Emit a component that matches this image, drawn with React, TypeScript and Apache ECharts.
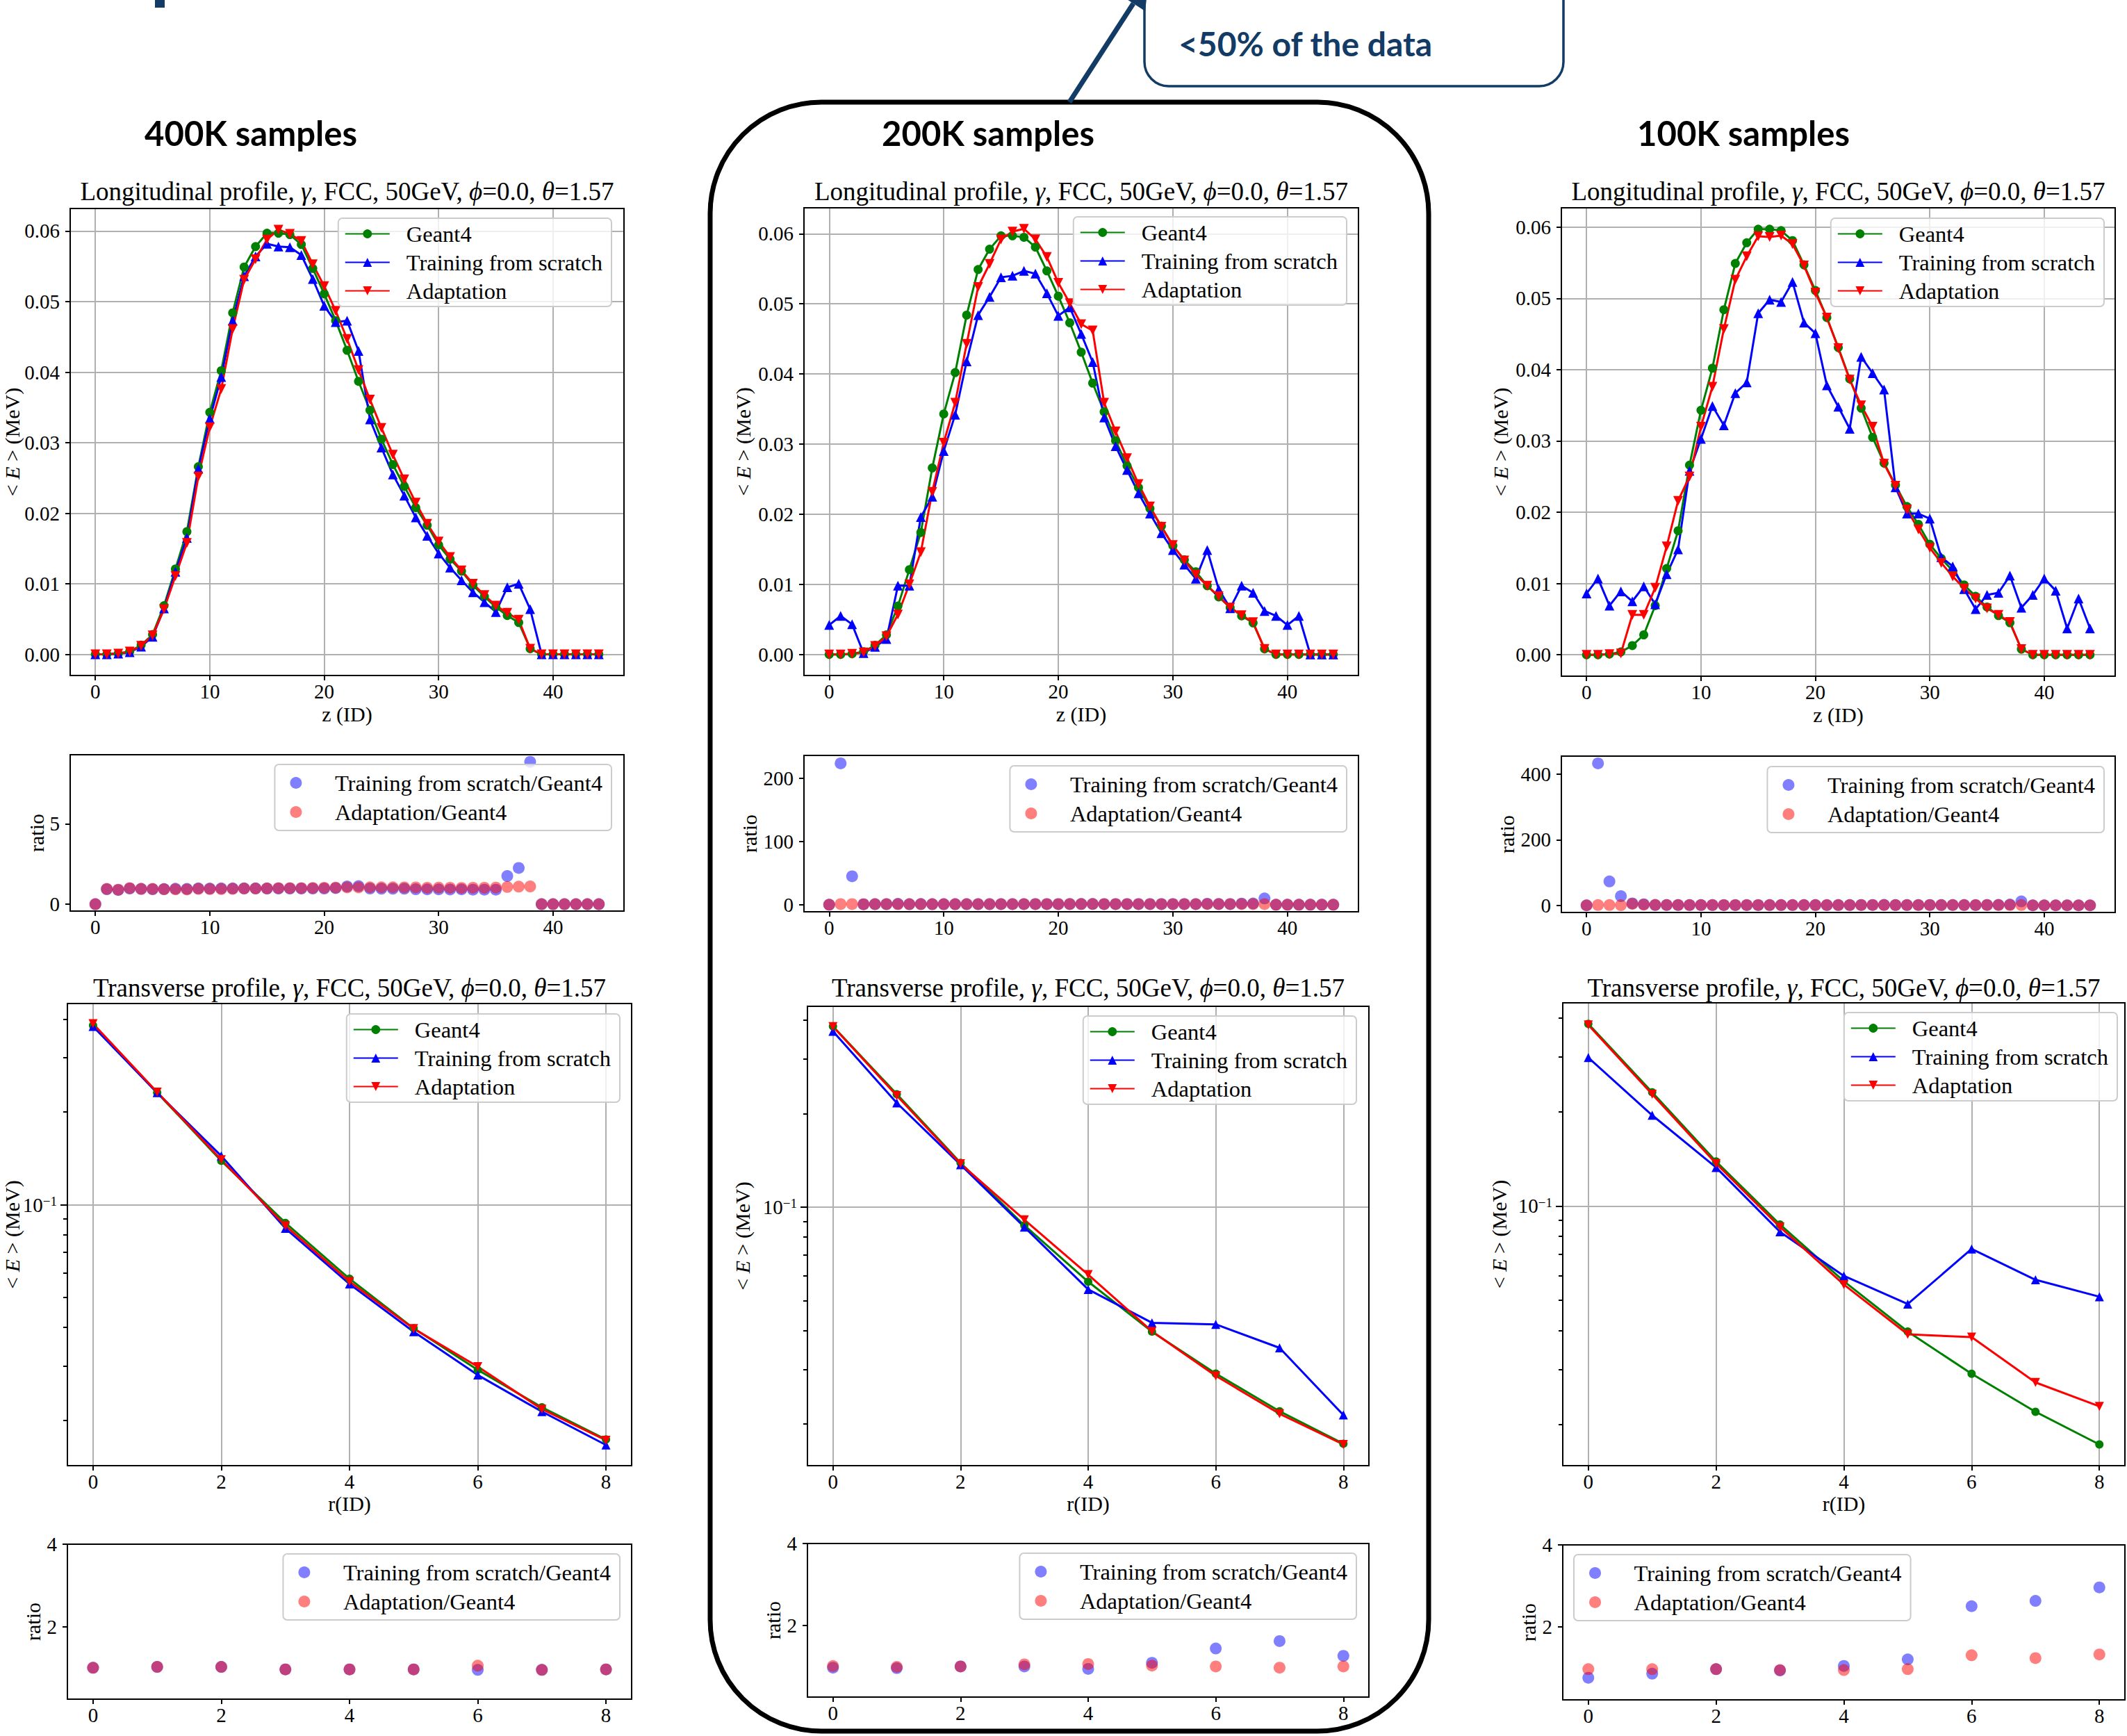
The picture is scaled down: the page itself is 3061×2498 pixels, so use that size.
import React, { useEffect, useRef } from "react";
import * as echarts from "echarts";

const W = 3061;
const H = 2498;

// ---------- bins & ticks ----------
const zBins = [0, 1, 2, 3, 4, 5, 6, 7, 8, 9, 10, 11, 12, 13, 14, 15, 16, 17, 18, 19, 20, 21, 22, 23, 24, 25, 26, 27, 28, 29, 30, 31, 32, 33, 34, 35, 36, 37, 38, 39, 40, 41, 42, 43, 44];
const rBins = [0, 1, 2, 3, 4, 5, 6, 7, 8];

const zTicks = [0, 10, 20, 30, 40];
const energyTicks = [0, 0.01, 0.02, 0.03, 0.04, 0.05, 0.06];
const rTicks = [0, 2, 4, 6, 8];
const logMajorTicks = [0.1];
const logMinorTicks = [0.02, 0.03, 0.04, 0.05, 0.06, 0.07, 0.08, 0.09, 0.2, 0.3, 0.4];
const ratioTicks400 = [0, 5];
const ratioTicks200 = [0, 100, 200];
const ratioTicks100 = [0, 200, 400];
const transRatioTicks = [2, 4];

const lineNames = ["Geant4", "Training from scratch", "Adaptation"];
const ratioNames = ["Training from scratch/Geant4", "Adaptation/Geant4"];
const headers = ["400K samples", "200K samples", "100K samples"];
const longTitle = "Longitudinal profile, {i|γ}, FCC, 50GeV, {i|ϕ}=0.0, {i|θ}=1.57";
const transTitle = "Transverse profile, {i|γ}, FCC, 50GeV, {i|ϕ}=0.0, {i|θ}=1.57";
const calloutText = "<50% of the data";

// ---------- longitudinal profiles ----------
const g4Long = [0, 0, 0.0001, 0.0004, 0.0013, 0.0028, 0.0069, 0.0121, 0.0174, 0.0266, 0.0343, 0.0402, 0.0484, 0.0549, 0.0578, 0.0597, 0.0597, 0.0595, 0.0581, 0.0547, 0.0511, 0.0473, 0.0431, 0.0387, 0.0346, 0.0305, 0.0269, 0.0238, 0.0208, 0.0183, 0.0155, 0.0135, 0.0118, 0.0098, 0.0082, 0.0067, 0.0055, 0.0045, 0.0008, 0, 0, 0, 0, 0, 0];

const scratchLong400 = [0, 0, 0.0001, 0.0003, 0.0011, 0.0025, 0.0065, 0.0117, 0.0165, 0.0263, 0.0334, 0.0393, 0.0473, 0.0536, 0.0564, 0.0582, 0.0578, 0.0577, 0.0566, 0.0532, 0.0494, 0.0471, 0.0473, 0.043, 0.0333, 0.0293, 0.0255, 0.0225, 0.0194, 0.0168, 0.0143, 0.0123, 0.0105, 0.0088, 0.0074, 0.006, 0.0095, 0.01, 0.0064, 0, 0, 0, 0, 0, 0];
const adaptLong400 = [0, 0, 0.0001, 0.0004, 0.0012, 0.0027, 0.0064, 0.0111, 0.0158, 0.0252, 0.0322, 0.0376, 0.0461, 0.0531, 0.056, 0.0588, 0.0602, 0.0596, 0.0586, 0.0553, 0.0522, 0.0487, 0.0447, 0.0403, 0.0361, 0.0321, 0.0283, 0.0248, 0.0215, 0.0185, 0.016, 0.0138, 0.0119, 0.01, 0.0084, 0.0069, 0.0059, 0.0049, 0.0008, 0, 0, 0, 0, 0, 0];

const scratchLong200 = [0.0042, 0.0055, 0.0043, 0.0002, 0.0011, 0.0022, 0.0098, 0.0098, 0.0196, 0.0225, 0.029, 0.0342, 0.0418, 0.0484, 0.051, 0.0538, 0.054, 0.0547, 0.0543, 0.0515, 0.0483, 0.0495, 0.0457, 0.0417, 0.0338, 0.0297, 0.0263, 0.023, 0.0201, 0.0173, 0.0149, 0.0128, 0.0108, 0.0149, 0.0093, 0.0066, 0.0098, 0.0088, 0.0062, 0.0055, 0.0042, 0.0055, 0, 0, 0];
const adaptLong200 = [0, 0, 0.0001, 0.0003, 0.0012, 0.0026, 0.0057, 0.01, 0.0146, 0.0232, 0.0302, 0.0359, 0.0443, 0.0524, 0.0557, 0.0592, 0.0603, 0.0607, 0.0592, 0.0567, 0.053, 0.0501, 0.0471, 0.0462, 0.0359, 0.0318, 0.028, 0.0243, 0.0211, 0.0182, 0.0156, 0.0134, 0.0114, 0.0098, 0.0083, 0.0067, 0.0056, 0.0046, 0.0008, 0, 0, 0, 0, 0, 0];

const scratchLong100 = [0.0086, 0.0107, 0.0069, 0.0089, 0.0075, 0.0096, 0.0071, 0.0113, 0.0148, 0.0258, 0.0303, 0.0349, 0.0322, 0.0367, 0.0382, 0.0479, 0.0498, 0.0495, 0.0523, 0.0466, 0.0451, 0.0378, 0.0348, 0.0317, 0.0418, 0.0395, 0.0372, 0.0235, 0.0198, 0.0198, 0.0191, 0.0137, 0.0124, 0.0092, 0.0064, 0.0084, 0.0087, 0.0111, 0.0066, 0.0084, 0.0107, 0.009, 0.0037, 0.0079, 0.0037];
const adaptLong100 = [0, 0, 0.0001, 0.0002, 0.0056, 0.0056, 0.0094, 0.0152, 0.0216, 0.025, 0.032, 0.0376, 0.0457, 0.0526, 0.0559, 0.0587, 0.0586, 0.0588, 0.0576, 0.0546, 0.0508, 0.0473, 0.043, 0.0386, 0.035, 0.032, 0.0268, 0.0237, 0.0204, 0.0176, 0.015, 0.0129, 0.011, 0.0093, 0.0079, 0.0065, 0.0056, 0.0046, 0.0008, 0, 0, 0, 0, 0, 0];

// ---------- longitudinal ratios ----------
const ratioScratchLong400 = [0, 0.93, 0.88, 0.97, 0.95, 0.93, 0.94, 0.96, 0.95, 0.98, 0.97, 0.98, 0.98, 0.98, 0.98, 0.97, 0.97, 0.97, 0.97, 0.97, 0.97, 1.0, 1.1, 1.12, 0.97, 0.96, 0.96, 0.96, 0.93, 0.92, 0.92, 0.91, 0.92, 0.9, 0.9, 0.9, 1.75, 2.25, 8.85, 0, 0, 0, 0, 0, 0];
const ratioAdaptLong400 = [0, 0.95, 0.9, 1.0, 0.95, 0.95, 0.93, 0.92, 0.91, 0.95, 0.94, 0.94, 0.95, 0.97, 0.97, 0.98, 1.0, 1.0, 1.0, 1.01, 1.02, 1.03, 1.04, 1.04, 1.05, 1.05, 1.05, 1.04, 1.04, 1.02, 1.03, 1.02, 1.01, 1.02, 1.02, 1.03, 1.07, 1.09, 1.1, 0, 0, 0, 0, 0, 0];

const ratioScratchLong200 = [0, 224, 45, 0.7, 0.85, 0.8, 1.4, 0.8, 1.1, 0.85, 0.85, 0.85, 0.86, 0.88, 0.88, 0.9, 0.9, 0.92, 0.93, 0.94, 0.95, 1.05, 1.06, 1.08, 0.98, 0.97, 0.98, 0.97, 0.97, 0.95, 0.96, 0.95, 0.92, 1.6, 1.13, 0.98, 1.8, 1.95, 9.9, 0, 0, 0, 0, 0, 0];
const ratioAdaptLong200 = [0, 1, 1, 0.75, 0.92, 0.93, 0.83, 0.83, 0.84, 0.87, 0.88, 0.89, 0.92, 0.95, 0.96, 0.99, 1.01, 1.02, 1.02, 1.04, 1.04, 1.06, 1.09, 1.19, 1.04, 1.04, 1.04, 1.02, 1.01, 0.99, 1.01, 0.99, 0.97, 1.0, 1.01, 1.0, 1.02, 1.02, 1.0, 0, 0, 0, 0, 0, 0];

const ratioScratchLong100 = [0, 433, 73, 28, 6, 3.4, 1.03, 0.93, 0.85, 0.97, 0.88, 0.87, 0.67, 0.67, 0.66, 0.8, 0.83, 0.83, 0.9, 0.85, 0.88, 0.8, 0.81, 0.82, 1.21, 1.3, 1.38, 0.99, 0.95, 1.08, 1.23, 1.01, 1.05, 0.94, 0.78, 1.25, 1.58, 2.47, 12, 0, 0, 0, 0, 0, 0];
const ratioAdaptLong100 = [0, 1, 1, 0.5, 4.3, 2.0, 1.36, 1.26, 1.24, 0.94, 0.93, 0.94, 0.94, 0.96, 0.97, 0.98, 0.98, 0.99, 0.99, 1.0, 0.99, 1.0, 1.0, 1.0, 1.01, 1.05, 1.0, 1.0, 0.98, 0.96, 0.97, 0.96, 0.93, 0.95, 0.96, 0.97, 1.02, 1.02, 1.0, 0, 0, 0, 0, 0, 0];

// ---------- transverse profiles ----------
const g4Trans = [0.382, 0.231, 0.1388, 0.0873, 0.0575, 0.0397, 0.0291, 0.022, 0.0173];
const scratchTrans400 = [0.379, 0.231, 0.144, 0.0838, 0.0553, 0.0387, 0.028, 0.0213, 0.0166];
const adaptTrans400 = [0.387, 0.232, 0.14, 0.0855, 0.0563, 0.0396, 0.0298, 0.0217, 0.0172];
const scratchTrans200 = [0.368, 0.2165, 0.1369, 0.0862, 0.0543, 0.0424, 0.0419, 0.0352, 0.0214];
const adaptTrans200 = [0.3812, 0.2285, 0.1379, 0.091, 0.0606, 0.0398, 0.0286, 0.0216, 0.0172];
const scratchTrans100 = [0.298, 0.195, 0.1328, 0.0827, 0.0598, 0.0486, 0.0729, 0.0581, 0.0513];
const adaptTrans100 = [0.379, 0.2276, 0.1367, 0.0857, 0.0561, 0.0389, 0.0381, 0.0273, 0.0229];

// ---------- transverse ratios ----------
const ratioScratchTrans400 = [1.01, 1.03, 1.03, 0.97, 0.97, 0.97, 0.96, 0.96, 0.97];
const ratioAdaptTrans400 = [1.01, 1.03, 1.03, 0.97, 0.97, 0.97, 1.06, 0.96, 0.97];
const ratioScratchTrans200 = [0.96, 0.95, 0.99, 0.99, 0.93, 1.08, 1.43, 1.61, 1.25];
const ratioAdaptTrans200 = [1.0, 0.98, 0.99, 1.04, 1.05, 1.01, 0.99, 0.96, 0.99];
const ratioScratchTrans100 = [0.75, 0.85, 0.96, 0.93, 1.04, 1.2, 2.5, 2.63, 2.96];
const ratioAdaptTrans100 = [0.96, 0.96, 0.96, 0.94, 0.94, 0.96, 1.3, 1.23, 1.32];

const columnsData = [
  { scratchLong: scratchLong400, adaptLong: adaptLong400, rScratchLong: ratioScratchLong400, rAdaptLong: ratioAdaptLong400, ratioTicks: ratioTicks400, scratchTrans: scratchTrans400, adaptTrans: adaptTrans400, rScratchTrans: ratioScratchTrans400, rAdaptTrans: ratioAdaptTrans400 },
  { scratchLong: scratchLong200, adaptLong: adaptLong200, rScratchLong: ratioScratchLong200, rAdaptLong: ratioAdaptLong200, ratioTicks: ratioTicks200, scratchTrans: scratchTrans200, adaptTrans: adaptTrans200, rScratchTrans: ratioScratchTrans200, rAdaptTrans: ratioAdaptTrans200 },
  { scratchLong: scratchLong100, adaptLong: adaptLong100, rScratchLong: ratioScratchLong100, rAdaptLong: ratioAdaptLong100, ratioTicks: ratioTicks100, scratchTrans: scratchTrans100, adaptTrans: adaptTrans100, rScratchTrans: ratioScratchTrans100, rAdaptTrans: ratioAdaptTrans100 },
];

// ---------- layout (pixels) ----------
const layout = [
  {
    headerX: 361,
    long: { left: 101, top: 300, width: 797, height: 672, yMin: -0.003, yMax: 0.0632, legend: { right: 2181, top: 314 }, yGap: 69 },
    longRatio: { left: 101, top: 1086, width: 797, height: 225, yMin: -0.43, yMax: 9.29, legend: { right: 2181, top: 1100 }, yGap: 34 },
    trans: { left: 97, top: 1444, width: 812, height: 665, yMin: 0.01422, yMax: 0.45, legend: { right: 2169, top: 1459 }, yGap: 65 },
    transRatio: { left: 97, top: 2222, width: 812, height: 223, yMin: 0.25, yMax: 4, legend: { right: 2169, top: 2236 }, yGap: 35 },
  },
  {
    headerX: 1422,
    long: { left: 1157, top: 299, width: 798, height: 673, yMin: -0.003, yMax: 0.0637, legend: { right: 1123, top: 312 }, yGap: 73 },
    longRatio: { left: 1157, top: 1087, width: 798, height: 225, yMin: -11.2, yMax: 236.6, legend: { right: 1123, top: 1102 }, yGap: 64 },
    trans: { left: 1162, top: 1448, width: 808, height: 661, yMin: 0.0147, yMax: 0.443, legend: { right: 1109, top: 1462 }, yGap: 79 },
    transRatio: { left: 1162, top: 2221, width: 808, height: 221, yMin: 0.24, yMax: 4, legend: { right: 1109, top: 2235 }, yGap: 35 },
  },
  {
    headerX: 2509,
    long: { left: 2247, top: 299, width: 797, height: 674, yMin: -0.003, yMax: 0.0627, legend: { right: 33, top: 314 }, yGap: 73 },
    longRatio: { left: 2247, top: 1088, width: 797, height: 225, yMin: -21.7, yMax: 455, legend: { right: 33, top: 1103 }, yGap: 64 },
    trans: { left: 2249, top: 1443, width: 809, height: 666, yMin: 0.0148, yMax: 0.446, legend: { right: 14, top: 1457 }, yGap: 77 },
    transRatio: { left: 2249, top: 2223, width: 809, height: 223, yMin: 0.21, yMax: 4, legend: { left: 2265, top: 2237 }, yGap: 35 },
  },
];

const SERIF = '"Liberation Serif", "Times New Roman", serif';
const SANS = 'Lato, "Noto Sans", sans-serif';
const NAVY = "#123b66";
const GREEN = "#008000";
const BLUE = "#0000ff";
const RED = "#ff0000";

function buildOption() {
  const grid: any[] = [];
  const xAxis: any[] = [];
  const yAxis: any[] = [];
  const series: any[] = [];
  const legend: any[] = [];
  const graphic: any[] = [];

  const tickLine = { color: "#000", width: 2 };
  const label = { color: "#000", fontFamily: SERIF, fontSize: 29 };
  const gridLine = { color: "#b0b0b0", width: 2 };
  const nameStyle = {
    color: "#000",
    fontFamily: SERIF,
    fontSize: 30,
    rich: { i: { fontStyle: "italic", fontFamily: SERIF, fontSize: 30, color: "#000" } },
  };

  const addGrid = (p: any) => {
    grid.push({ left: p.left, top: p.top, width: p.width, height: p.height, show: false, containLabel: false, outerBoundsMode: "none" });
    return grid.length - 1;
  };

  const addX = (gi: number, min: number, max: number, ticks: number[], split: boolean, name?: string, nameGap?: number) => {
    xAxis.push({
      type: "value",
      gridIndex: gi,
      min,
      max,
      position: "bottom",
      axisLine: { show: false, onZero: false },
      axisTick: { show: true, length: 7, lineStyle: tickLine, customValues: ticks },
      axisLabel: { ...label, margin: 8, customValues: ticks, formatter: (v: number) => String(v) },
      splitLine: { show: split, lineStyle: gridLine },
      name: name || "",
      nameLocation: "middle",
      nameGap: nameGap || 0,
      nameMoveOverlap: false,
      nameTextStyle: nameStyle,
    });
    return xAxis.length - 1;
  };

  const addY = (gi: number, o: any) => {
    yAxis.push({
      type: o.type || "value",
      logBase: 10,
      gridIndex: gi,
      min: o.min,
      max: o.max,
      position: "left",
      offset: 0,
      axisLine: { show: false, onZero: false },
      axisTick: { show: true, length: o.tickLen || 7, lineStyle: tickLine, customValues: o.ticks },
      axisLabel: o.noLabels
        ? { show: false }
        : { ...label, margin: 15, customValues: o.ticks, formatter: o.fmt, rich: o.rich },
      splitLine: { show: !!o.split, lineStyle: gridLine },
      name: o.name || "",
      nameLocation: "middle",
      nameGap: o.nameGap || 0,
      nameMoveOverlap: false,
      nameTextStyle: nameStyle,
    });
    return yAxis.length - 1;
  };

  const addFrame = (xi: number, yi: number, pt: number[]) => {
    series.push({
      type: "custom",
      xAxisIndex: xi,
      yAxisIndex: yi,
      z: 10,
      silent: true,
      clip: false,
      data: [pt],
      renderItem: (params: any) => {
        const cs = params.coordSys;
        return {
          type: "rect",
          shape: { x: cs.x, y: cs.y, width: cs.width, height: cs.height },
          style: { fill: "none", stroke: "#000", lineWidth: 2 },
        };
      },
    });
  };

  const addLine = (xi: number, yi: number, name: string, xs: number[], ys: number[], color: string, symbol: string, rotate: number, size: number) => {
    series.push({
      type: "line",
      name,
      xAxisIndex: xi,
      yAxisIndex: yi,
      data: xs.map((x, i) => [x, ys[i]]),
      symbol,
      symbolRotate: rotate,
      symbolSize: size,
      showSymbol: true,
      showAllSymbol: true,
      lineStyle: { color, width: 3 },
      itemStyle: { color },
      emphasis: { disabled: true },
      silent: true,
      z: 3,
    });
  };

  const addScatter = (xi: number, yi: number, name: string, xs: number[], ys: number[], color: string) => {
    series.push({
      type: "scatter",
      name,
      xAxisIndex: xi,
      yAxisIndex: yi,
      data: xs.map((x, i) => [x, ys[i]]),
      symbol: "circle",
      symbolSize: 17,
      itemStyle: { color, opacity: 0.5 },
      emphasis: { disabled: true },
      silent: true,
      z: 3,
    });
  };

  const addLegend = (names: string[], pos: any, isRatio: boolean) => {
    const lg: any = {
      show: true,
      orient: "vertical",
      ...pos,
      padding: isRatio ? [10, 13, 10, 22] : [6, 13, 6, 9],
      itemWidth: isRatio ? 40 : 64,
      itemHeight: isRatio ? 17 : 16,
      itemGap: isRatio ? 9 : 8,
      data: names,
      selectedMode: false,
      backgroundColor: "rgba(255,255,255,0.8)",
      borderColor: "#cccccc",
      borderWidth: 2,
      borderRadius: 6,
      textStyle: { fontFamily: SERIF, fontSize: 32.5, color: "#000", lineHeight: 32, padding: isRatio ? [0, 0, 0, 31] : [0, 0, 0, 19] },
      z: 5,
    };
    if (isRatio) lg.icon = "circle";
    legend.push(lg);
  };

  const titleText = (x: number, y: number, text: string) => ({
    type: "text",
    x,
    y,
    silent: true,
    style: {
      text,
      fontFamily: SERIF,
      fontSize: 37,
      fill: "#000",
      align: "center",
      verticalAlign: "middle",
      textAlign: "center",
      textVerticalAlign: "middle",
      rich: { i: { fontStyle: "italic", fontFamily: SERIF, fontSize: 37, fill: "#000", color: "#000" } },
    },
  });

  layout.forEach((L, c) => {
    const D = columnsData[c];

    // header
    graphic.push({
      type: "text",
      x: L.headerX,
      y: 191,
      silent: true,
      style: { text: headers[c], fontFamily: SANS, fontWeight: "bold", fontSize: 49, fill: "#000", align: "center", verticalAlign: "middle", textAlign: "center", textVerticalAlign: "middle" },
    });

    // longitudinal
    let p: any = L.long;
    let gi = addGrid(p);
    let xi = addX(gi, -2.2, 46.2, zTicks, true, "z (ID)", 40);
    let yi = addY(gi, { min: p.yMin, max: p.yMax, ticks: energyTicks, fmt: (v: number) => v.toFixed(2), split: true, name: "< {i|E} > (MeV)", nameGap: p.yGap });
    addLine(xi, yi, "Geant4", zBins, g4Long, GREEN, "circle", 0, 13);
    addLine(xi, yi, "Training from scratch", zBins, D.scratchLong, BLUE, "triangle", 0, 14);
    addLine(xi, yi, "Adaptation", zBins, D.adaptLong, RED, "triangle", 180, 14);
    addFrame(xi, yi, [0, p.yMax]);
    addLegend(lineNames, p.legend, false);
    graphic.push(titleText(p.left + p.width / 2, 275, longTitle));

    // longitudinal ratio
    p = L.longRatio;
    gi = addGrid(p);
    xi = addX(gi, -2.2, 46.2, zTicks, false);
    yi = addY(gi, { min: p.yMin, max: p.yMax, ticks: D.ratioTicks, fmt: (v: number) => String(v), split: false, name: "ratio", nameGap: p.yGap });
    addScatter(xi, yi, "Training from scratch/Geant4", zBins, D.rScratchLong, BLUE);
    addScatter(xi, yi, "Adaptation/Geant4", zBins, D.rAdaptLong, RED);
    addFrame(xi, yi, [0, p.yMax]);
    addLegend(ratioNames, p.legend, true);

    // transverse (log)
    p = L.trans;
    gi = addGrid(p);
    xi = addX(gi, -0.4, 8.4, rTicks, true, "r(ID)", 39);
    yi = addY(gi, {
      type: "log",
      min: p.yMin,
      max: p.yMax,
      ticks: logMajorTicks,
      tickLen: 10,
      fmt: () => "{a|10}{b|−1}",
      rich: {
        a: { fontFamily: SERIF, fontSize: 29, color: "#000", verticalAlign: "bottom" },
        b: { fontFamily: SERIF, fontSize: 19, color: "#000", verticalAlign: "top" },
      },
      split: true,
      name: "< {i|E} > (MeV)",
      nameGap: p.yGap,
    });
    addY(gi, { type: "log", min: p.yMin, max: p.yMax, ticks: logMinorTicks, tickLen: 6, noLabels: true, split: false });
    addLine(xi, yi, "Geant4", rBins, g4Trans, GREEN, "circle", 0, 12);
    addLine(xi, yi, "Training from scratch", rBins, D.scratchTrans, BLUE, "triangle", 0, 13);
    addLine(xi, yi, "Adaptation", rBins, D.adaptTrans, RED, "triangle", 180, 13);
    addFrame(xi, yi, [0, p.yMax]);
    addLegend(lineNames, p.legend, false);
    graphic.push(titleText(p.left + p.width / 2, 1421, transTitle));

    // transverse ratio
    p = L.transRatio;
    gi = addGrid(p);
    xi = addX(gi, -0.4, 8.4, rTicks, false);
    yi = addY(gi, { min: p.yMin, max: p.yMax, ticks: transRatioTicks, fmt: (v: number) => String(v), split: false, name: "ratio", nameGap: p.yGap });
    addScatter(xi, yi, "Training from scratch/Geant4", rBins, D.rScratchTrans, BLUE);
    addScatter(xi, yi, "Adaptation/Geant4", rBins, D.rAdaptTrans, RED);
    addFrame(xi, yi, [0, p.yMax]);
    addLegend(ratioNames, p.legend, true);
  });

  // decorations: cut-off slide title glyph, rounded box around middle column, callout and arrow
  graphic.push({ type: "rect", silent: true, shape: { x: 223, y: 0, width: 14, height: 11 }, style: { fill: NAVY } });
  graphic.push({
    type: "rect",
    silent: true,
    shape: { x: 1022, y: 147, width: 1034, height: 2344, r: 160 },
    style: { fill: "none", stroke: "#000", lineWidth: 7 },
  });
  graphic.push({
    type: "rect",
    silent: true,
    shape: { x: 1647, y: -60, width: 603, height: 184, r: 35 },
    style: { fill: "#fff", stroke: NAVY, lineWidth: 3.5 },
  });
  graphic.push({
    type: "line",
    silent: true,
    shape: { x1: 1539, y1: 147, x2: 1631, y2: 5 },
    style: { stroke: NAVY, lineWidth: 7 },
  });
  graphic.push({
    type: "polygon",
    silent: true,
    shape: { points: [[1653, -29], [1648, 16], [1614, -6]] },
    style: { fill: NAVY },
  });
  graphic.push({
    type: "text",
    x: 1696,
    y: 62,
    silent: true,
    style: { text: calloutText, fontFamily: SANS, fontWeight: "bold", fontSize: 48, fill: NAVY, align: "left", verticalAlign: "middle", textAlign: "left", textVerticalAlign: "middle" },
  });

  return {
    animation: false,
    backgroundColor: "#ffffff",
    grid,
    xAxis,
    yAxis,
    series,
    legend,
    graphic,
  };
}

export default function App() {
  const ref = useRef<HTMLDivElement>(null);
  useEffect(() => {
    if (!ref.current) return;
    const chart = echarts.init(ref.current, null, { renderer: "svg", width: W, height: H });
    chart.setOption(buildOption() as any);
    return () => chart.dispose();
  }, []);
  return <div ref={ref} style={{ position: "fixed", left: 0, top: 0, width: W, height: H, background: "#fff" }} />;
}
